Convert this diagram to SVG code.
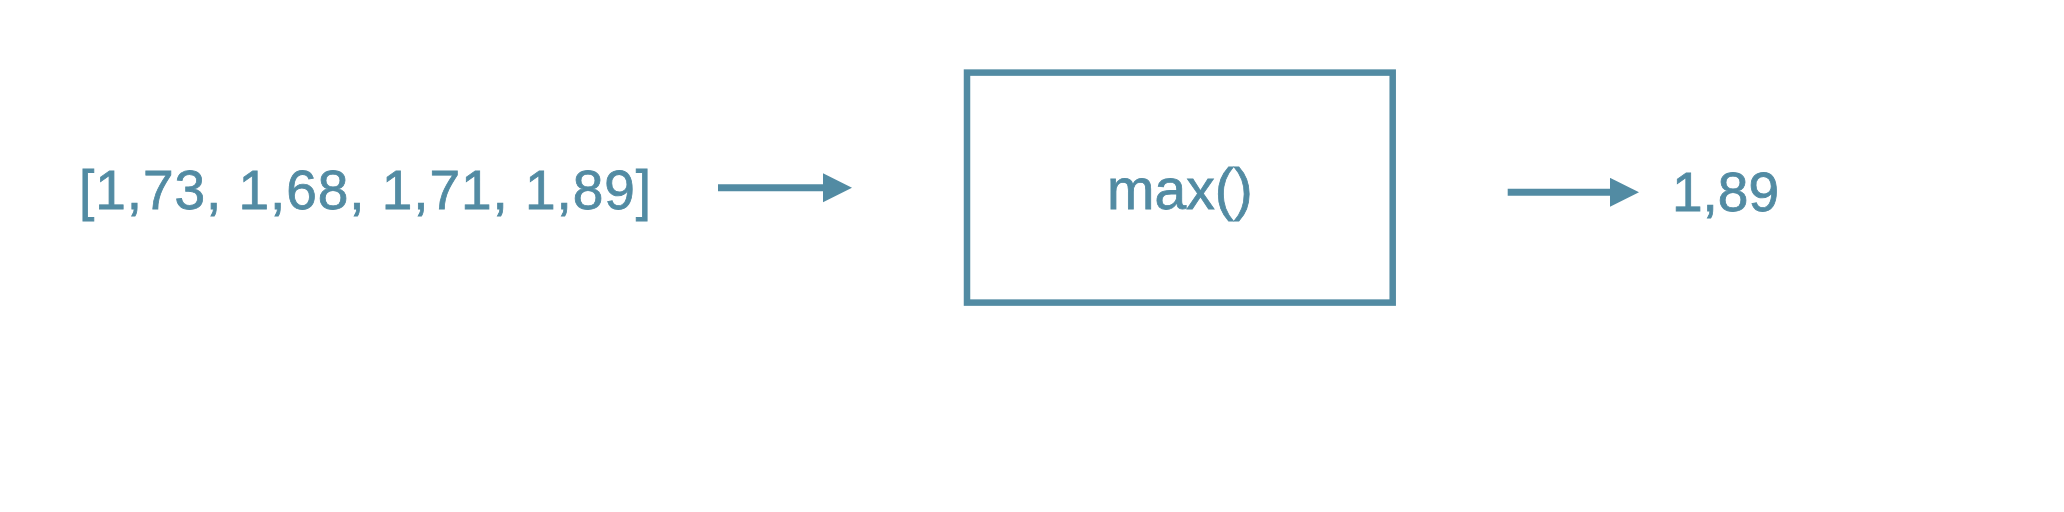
<svg xmlns="http://www.w3.org/2000/svg" width="2064" height="512" viewBox="0 0 2064 512">
  <style>
    .lbl { font-family: "Liberation Sans", Arial, Helvetica, sans-serif; font-size: 55px; fill: #528ba3; stroke: #528ba3; stroke-width: 0.8; }
    .box { fill: none; stroke: #528ba3; stroke-width: 6.5; }
    .conn { stroke: #528ba3; stroke-width: 7; fill: none; }
  </style>
  <defs>
    <marker id="head" markerUnits="userSpaceOnUse" markerWidth="30" markerHeight="30" refX="0" refY="14.5" orient="auto">
      <path d="M0,0 L29,14.5 L0,29 Z" fill="#528ba3"/>
    </marker>
  </defs>
  <rect width="2064" height="512" fill="#ffffff"/>
  <g id="input">
    <text class="lbl" x="79" y="209.3" textLength="572" lengthAdjust="spacing">[1,73, 1,68, 1,71, 1,89]</text>
  </g>
  <g id="max-node">
    <rect class="box" x="967" y="72.6" width="425.7" height="230"/>
    <text class="lbl" x="1179.8" y="208.7" text-anchor="middle" style="font-size:57px">max()</text>
  </g>
  <g id="output">
    <text class="lbl" x="1672" y="210.5">1,89</text>
  </g>
  <g id="connectors">
    <line class="conn" x1="718" y1="187.7" x2="823" y2="187.7" marker-end="url(#head)"/>
    <line class="conn" x1="1507.7" y1="192.3" x2="1610" y2="192.3" marker-end="url(#head)"/>
  </g>
</svg>
